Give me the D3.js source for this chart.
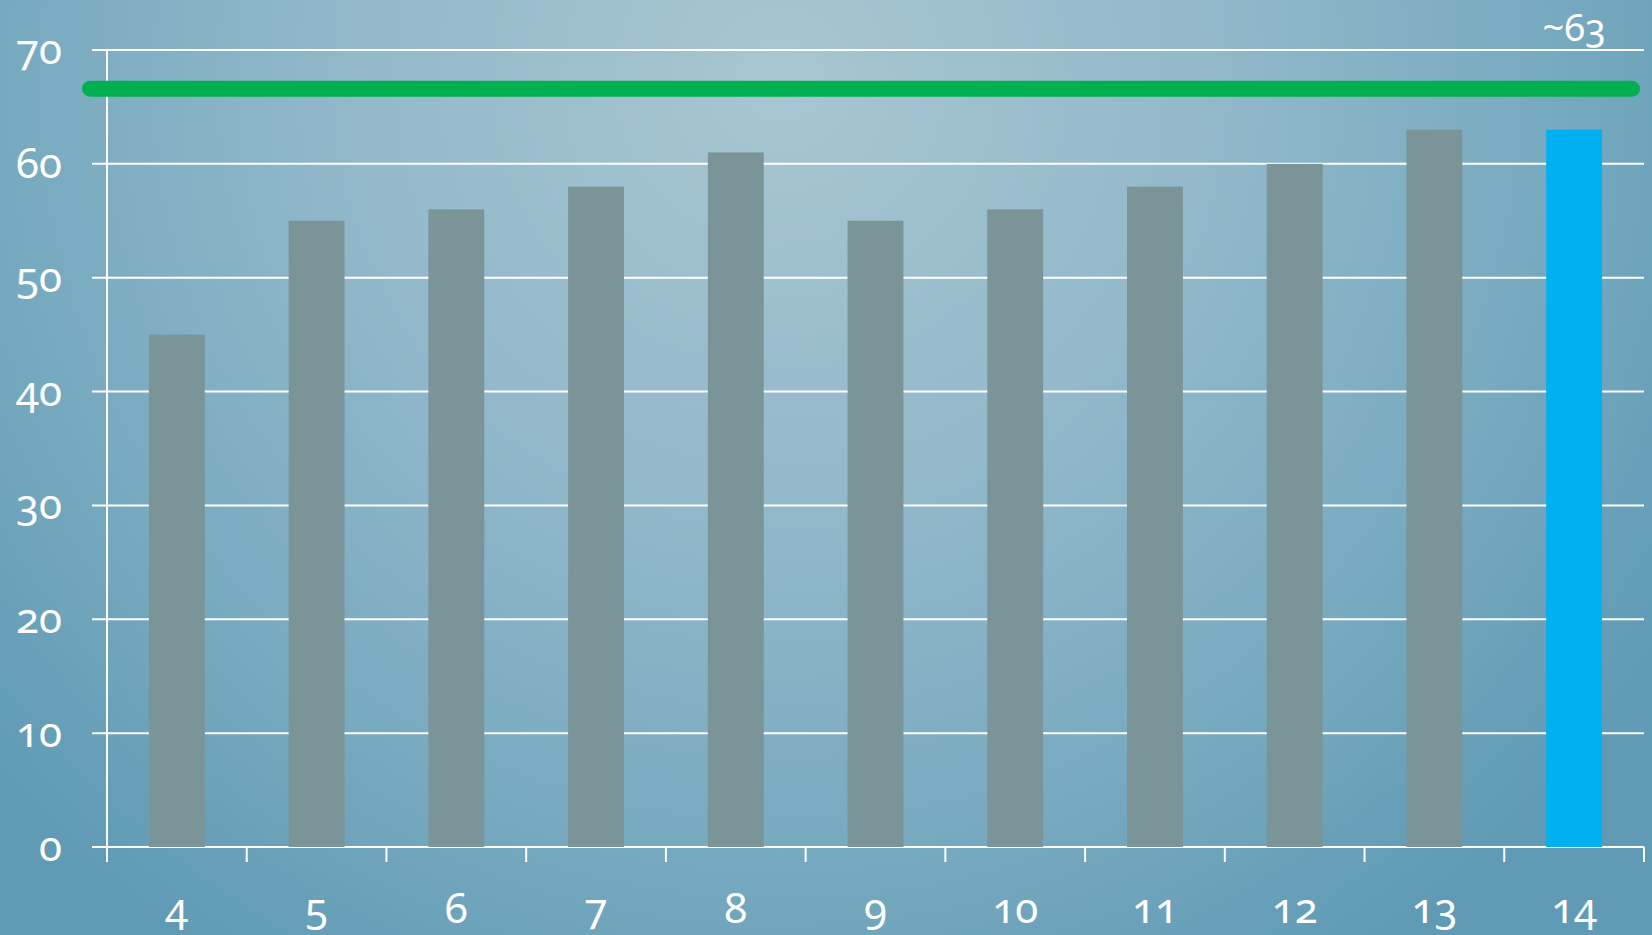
<!DOCTYPE html>
<html>
<head>
<meta charset="utf-8">
<script src="https://cdn.jsdelivr.net/npm/d3@7"></script>
<style>
  html, body { margin: 0; padding: 0; overflow: hidden; }
  svg { display: block; }
  text {
    font-family: "Noto Sans", "Open Sans", sans-serif;
    font-variant-numeric: oldstyle-nums;
    font-feature-settings: "onum" 1;
    fill: #fff;
  }
</style>
</head>
<body>
<script>
const WIDTH_SVG = 1652;
const HEIGHT_SVG = 935;

// data
const categories = ["4", "5", "6", "7", "8", "9", "10", "11", "12", "13", "14"];
const values = [45, 55, 56, 58, 61, 55, 56, 58, 60, 63, 63];
const highlight = ["14"];
const yTicks = [0, 10, 20, 30, 40, 50, 60, 70];
const targetValue = [66.6];
const annotation = ["~63"];

const PLOT_LEFT = 107;
const PLOT_RIGHT = 1644;
const PLOT_TOP = 50;
const PLOT_BOTTOM = 847;

const svg = d3.select("body")
    .append("svg")
        .attr("width", WIDTH_SVG)
        .attr("height", HEIGHT_SVG);

// Background
const defs = svg.append("defs");
const grad = defs.append("radialGradient")
    .attr("id", "bg")
    .attr("gradientUnits", "userSpaceOnUse")
    .attr("cx", 780).attr("cy", 80)
    .attr("r", 1050);
grad.append("stop").attr("offset", "0%").attr("stop-color", "#a8c5d2");
grad.append("stop").attr("offset", "40%").attr("stop-color", "#93b9ca");
grad.append("stop").attr("offset", "75%").attr("stop-color", "#76a9bf");
grad.append("stop").attr("offset", "100%").attr("stop-color", "#609ab5");

svg.append("rect")
    .attr("width", WIDTH_SVG)
    .attr("height", HEIGHT_SVG)
    .attr("fill", "url(#bg)");

const x = d3.scaleBand()
    .domain(categories)
    .range([PLOT_LEFT, PLOT_RIGHT])
    .paddingInner(0.6)
    .paddingOuter(0.3);

const y = d3.scaleLinear()
    .domain([0, 70])
    .range([PLOT_BOTTOM, PLOT_TOP]);

// Gridlines
svg.append("g")
    .selectAll("line")
    .data(yTicks)
    .join("line")
        .attr("x1", PLOT_LEFT - 15)
        .attr("x2", PLOT_RIGHT)
        .attr("y1", d => y(d))
        .attr("y2", d => y(d))
        .attr("stroke", "#fff")
        .attr("stroke-width", 2);

// Y labels
svg.append("g")
    .selectAll("text")
    .data(yTicks)
    .join("text")
        .attr("x", 62)
        .attr("y", d => y(d) + 14)
        .attr("text-anchor", "end")
        .style("font-size", "42px")
        .text(d => d);

// Y axis line
svg.append("line")
    .attr("x1", PLOT_LEFT).attr("x2", PLOT_LEFT)
    .attr("y1", PLOT_TOP).attr("y2", PLOT_BOTTOM + 15)
    .attr("stroke", "#fff")
    .attr("stroke-width", 2);

// X ticks
const tickPos = d3.range(categories.length + 1).map(i => PLOT_LEFT + i * (PLOT_RIGHT - PLOT_LEFT) / categories.length);
svg.append("g")
    .selectAll("line")
    .data(tickPos.slice(1))
    .join("line")
        .attr("x1", d => d).attr("x2", d => d)
        .attr("y1", PLOT_BOTTOM).attr("y2", PLOT_BOTTOM + 15)
        .attr("stroke", "#fff")
        .attr("stroke-width", 2);

// Bars
svg.append("g")
    .selectAll("rect")
    .data(categories)
    .join("rect")
        .attr("x", d => x(d))
        .attr("y", (d, i) => y(values[i]))
        .attr("width", x.bandwidth())
        .attr("height", (d, i) => PLOT_BOTTOM - y(values[i]))
        .attr("fill", d => highlight.includes(d) ? "#00b0f0" : "#7b9498");

// X labels
svg.append("g")
    .selectAll("text")
    .data(categories)
    .join("text")
        .attr("x", d => x(d) + x.bandwidth() / 2)
        .attr("y", 923)
        .attr("text-anchor", "middle")
        .style("font-size", "42px")
        .text(d => d);

// Target line
svg.append("line")
    .attr("x1", 90)
    .attr("x2", 1632)
    .attr("y1", y(targetValue[0]))
    .attr("y2", y(targetValue[0]))
    .attr("stroke", "#00b050")
    .attr("stroke-width", 16)
    .attr("stroke-linecap", "round");

// Annotation
const last = categories[categories.length - 1];
svg.append("text")
    .attr("x", x(last) + x.bandwidth() / 2)
    .attr("y", 41)
    .attr("text-anchor", "middle")
    .style("font-size", "38px")
    .text(annotation[0]);
</script>
</body>
</html>
